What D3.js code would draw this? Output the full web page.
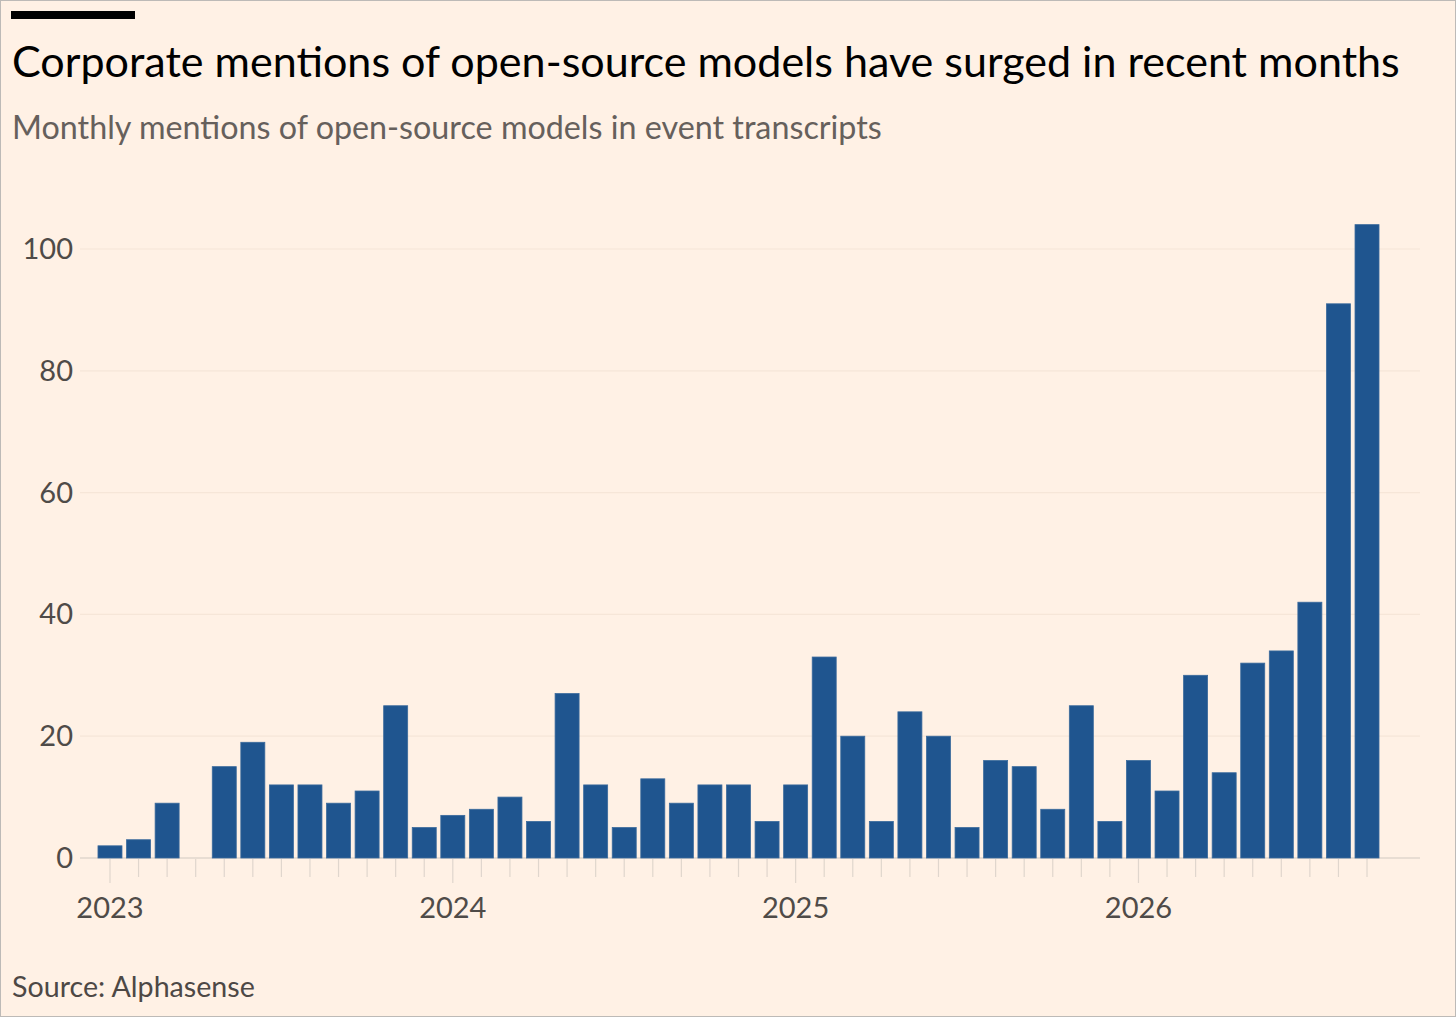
<!DOCTYPE html>
<html lang="en">
<head>
<meta charset="utf-8">
<title>Open-source model mentions</title>
<script src="https://cdn.jsdelivr.net/npm/d3@7"></script>
<style>
  html, body { margin: 0; padding: 0; background: #fff1e5; }
  svg { display: block; }
  text { font-family: Lato, "Open Sans", sans-serif; }
</style>
</head>
<body>
<div id="chart"></div>
<script>
// monthly mentions, Jan 2023 .. Sep 2026 (0 = no bar)
const months = d3.timeMonths(new Date(2023, 0, 1), new Date(2026, 9, 1));
const mentions = [
  2, 3, 9, 0, 15, 19, 12, 12, 9, 11, 25, 5,
  7, 8, 10, 6, 27, 12, 5, 13, 9, 12, 12, 6,
  12, 33, 20, 6, 24, 20, 5, 16, 15, 8, 25, 6,
  16, 11, 30, 14, 32, 34, 42, 91, 104
];
const yTicks = [0, 20, 40, 60, 80, 100];
const yearLabels = ["2023", "2024", "2025", "2026"];

const title = "Corporate mentions of open-source models have surged in recent months";
const subtitle = "Monthly mentions of open-source models in event transcripts";
const source = "Source: Alphasense";

const width = 1456, height = 1017;
const plotLeft = 80, plotRight = 1420;

const data = months.map((m, i) => ({date: m, value: mentions[i]}));

const svg = d3.select("#chart").append("svg")
  .attr("width", width)
  .attr("height", height);

svg.append("rect")
  .attr("x", 0.5).attr("y", 0.5)
  .attr("width", width - 1).attr("height", height - 1)
  .attr("fill", "#fff1e5")
  .attr("stroke", "#bdbab7");

// FT style black bar
svg.append("rect")
  .attr("x", 11).attr("y", 11)
  .attr("width", 124).attr("height", 8)
  .attr("fill", "#000");

// fit a text to the width it takes in the original
function fit(sel, size, w) {
  const cur = sel.node().getComputedTextLength();
  sel.attr("font-size", size * w / cur);
}

const t = svg.append("text")
  .attr("x", 12).attr("y", 77)
  .attr("font-size", 40)
  .attr("fill", "#000")
  .text(title);
fit(t, 40, 1388);

const st = svg.append("text")
  .attr("x", 12).attr("y", 139)
  .attr("font-size", 29)
  .attr("fill", "#66605c")
  .text(subtitle);
fit(st, 29, 870);

const src = svg.append("text")
  .attr("x", 12).attr("y", 997)
  .attr("font-size", 27)
  .attr("fill", "#4d4845")
  .text(source);
fit(src, 27, 243);

const x = d3.scaleBand()
  .domain(data.map((d, i) => i))
  .range([95.7, 1381.3])
  .paddingInner(0.16)
  .paddingOuter(0.08);

const y = d3.scaleLinear()
  .domain([0, 100])
  .range([858, 249]);

// gridlines
svg.append("g")
  .selectAll("line")
  .data(yTicks)
  .join("line")
  .attr("x1", plotLeft).attr("x2", plotRight)
  .attr("y1", d => y(d)).attr("y2", d => y(d))
  .attr("stroke", d => d === 0 ? "#e0d6cd" : "#f6e6d8")
  .attr("stroke-width", d => d === 0 ? 1.5 : 1.2);

// y labels
svg.append("g")
  .selectAll("text")
  .data(yTicks)
  .join("text")
  .attr("x", 73)
  .attr("y", d => y(d) + 10)
  .attr("text-anchor", "end")
  .attr("font-size", 29)
  .attr("fill", "#4f4b48")
  .text(d => d);

// month ticks
svg.append("g")
  .selectAll("line")
  .data(data)
  .join("line")
  .attr("x1", (d, i) => x(i) + x.bandwidth() / 2)
  .attr("x2", (d, i) => x(i) + x.bandwidth() / 2)
  .attr("y1", 859)
  .attr("y2", d => d.date.getMonth() === 0 ? 883 : 877)
  .attr("stroke", "#e0d6cd")
  .attr("stroke-width", 1.2);

// year labels
const jan = data.map((d, i) => ({d, i})).filter(o => o.d.date.getMonth() === 0);
svg.append("g")
  .selectAll("text")
  .data(jan)
  .join("text")
  .attr("x", o => x(o.i) + x.bandwidth() / 2)
  .attr("y", 918)
  .attr("text-anchor", "middle")
  .attr("font-size", 29)
  .attr("fill", "#4f4b48")
  .text((o, k) => yearLabels[k]);

// bars
svg.append("g")
  .selectAll("rect")
  .data(data.map((d, i) => ({...d, i})).filter(d => d.value > 0))
  .join("rect")
  .attr("x", d => x(d.i))
  .attr("width", x.bandwidth())
  .attr("y", d => y(d.value))
  .attr("height", d => y(0) - y(d.value))
  .attr("fill", "#1f558f")
  .attr("stroke", "#3a6a9c")
  .attr("stroke-width", 0.8);
</script>
</body>
</html>
